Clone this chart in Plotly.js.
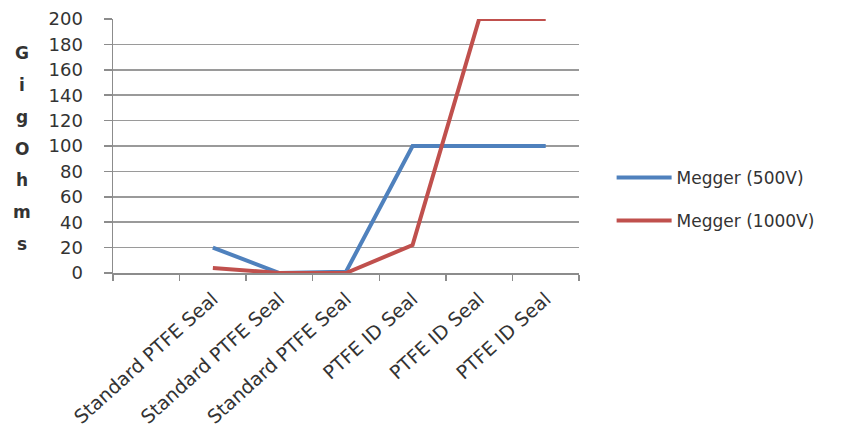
<!DOCTYPE html>
<html>
<head>
<meta charset="utf-8">
<script src="https://cdn.plot.ly/plotly-3.0.1.min.js"></script>
<style>
  html, body { margin: 0; padding: 0; background: #fff; }
  #chart { width: 856px; height: 433px; }
</style>
</head>
<body>
<div id="chart"></div>
<script>
// Seal types tested (first slot has no sample)
var sealLabels = ["", "Standard PTFE Seal", "Standard PTFE Seal", "Standard PTFE Seal",
                  "PTFE ID Seal", "PTFE ID Seal", "PTFE ID Seal"];
// Insulation resistance in GigOhms
var megger500 = [null, 20, 0, 1, 100, 100, 100];
var megger1000 = [null, 4, 0, 0, 22, 200, 200];
var seriesNames = ["Megger (500V)", "Megger (1000V)"];
var yTitleLetters = ["G", "i", "g", "O", "h", "m", "s"];

var slots = sealLabels.map(function (_, i) { return i + 1; });
var boundaries = [];
for (var b = 0; b <= sealLabels.length; b++) boundaries.push(b + 0.5);

var font = "'DejaVu Sans', 'Open Sans', sans-serif";
var textColor = "#333333";

var traces = [
  { x: slots, y: megger500, name: seriesNames[0], legendgroup: "a", type: "scatter", mode: "lines",
    line: { color: "#4F81BD", width: 4 }, connectgaps: false },
  { x: slots, y: megger1000, name: seriesNames[1], legendgroup: "b", type: "scatter", mode: "lines",
    line: { color: "#C0504D", width: 4 }, connectgaps: false }
];

// Stacked letters of the vertical axis title
var annotations = yTitleLetters.map(function (ch, i) {
  return {
    text: "<b>" + ch + "</b>", xref: "paper", yref: "paper",
    x: -0.195, y: 0.865 - i * 0.125, xanchor: "center", yanchor: "middle",
    showarrow: false, font: { family: font, size: 17, color: textColor }
  };
});

var layout = {
  width: 856, height: 433,
  margin: { l: 113, r: 277, t: 19, b: 160 },
  paper_bgcolor: "#ffffff", plot_bgcolor: "#ffffff",
  showlegend: true,
  legend: {
    x: 1.07, y: 0.29, xanchor: "left", yanchor: "middle",
    font: { family: font, size: 17, color: textColor },
    traceorder: "grouped", tracegroupgap: 18, itemwidth: 55
  },
  xaxis: {
    range: [0.5, sealLabels.length + 0.5],
    tickmode: "array", tickvals: slots, ticktext: sealLabels,
    ticks: "", tickangle: -42, showgrid: false, zeroline: false,
    showline: true, linecolor: "#8c8c8c", linewidth: 1.5,
    tickfont: { family: font, size: 19, color: textColor },
    ticklabelstandoff: 6,
    minor: { tickmode: "array", tickvals: boundaries, ticks: "outside", ticklen: 6,
             tickcolor: "#8c8c8c", tickwidth: 1.5, showgrid: false },
    fixedrange: true
  },
  yaxis: {
    range: [0, 200], dtick: 20, tick0: 0,
    ticks: "outside", ticklen: 8, tickcolor: "#8c8c8c", tickwidth: 1.5,
    showgrid: true, gridcolor: "#9a9a9a", gridwidth: 1.5, zeroline: false,
    showline: true, linecolor: "#8c8c8c", linewidth: 1.5,
    tickfont: { family: font, size: 18, color: textColor },
    ticklabelstandoff: 17,
    fixedrange: true
  },
  annotations: annotations
};

Plotly.newPlot("chart", traces, layout, { staticPlot: true, displayModeBar: false });
</script>
</body>
</html>
